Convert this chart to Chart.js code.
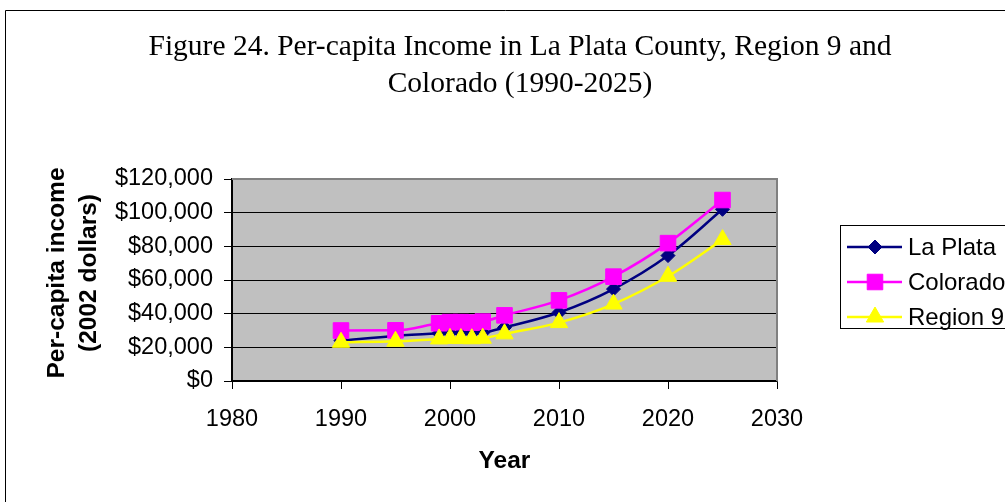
<!DOCTYPE html>
<html>
<head>
<meta charset="utf-8">
<script src="https://cdn.jsdelivr.net/npm/chart.js@4"></script>
<style>
  html, body { margin: 0; padding: 0; background: #fff; }
  #wrap { width: 1005px; height: 502px; position: relative; }
</style>
</head>
<body>
<div id="wrap"><canvas id="chart" width="1005" height="502"></canvas></div>
<script>
// ---- data ----
const years = [1990, 1995, 1999, 2000, 2001, 2002, 2003, 2005, 2010, 2015, 2020, 2025];
const laPlata = [24000, 26800, 28300, 28600, 28500, 28300, 28700, 31800, 40700, 54600, 74500, 102000];
const colorado = [30000, 30100, 34300, 35000, 35000, 34700, 35300, 39000, 47900, 62000, 81900, 107500];
const region9 = [23000, 23600, 25000, 25300, 25200, 25100, 25400, 28000, 34700, 45700, 62200, 84000];

const seriesNames = ['La Plata', 'Colorado', 'Region 9'];
const titleLines = ['Figure 24. Per-capita Income in La Plata County, Region 9 and', 'Colorado (1990-2025)'];
const yTitleLines = ['Per-capita income', '(2002 dollars)'];
const xTitle = 'Year';

const toPoints = vals => years.map((y, i) => ({ x: y, y: vals[i] }));

// plot background, frame, titles and legend box
const decorPlugin = {
  id: 'decor',
  beforeDraw(chart) {
    const { ctx, chartArea: a } = chart;
    ctx.save();
    ctx.fillStyle = '#c0c0c0';
    ctx.fillRect(a.left, a.top, a.right - a.left, a.bottom - a.top);
    ctx.restore();
  },
  beforeDatasetsDraw(chart) {
    const { ctx, chartArea: a } = chart;
    ctx.save();
    ctx.strokeStyle = '#808080';
    ctx.lineWidth = 2;
    ctx.beginPath();
    ctx.moveTo(a.left, a.top);
    ctx.lineTo(a.right, a.top);
    ctx.lineTo(a.right, a.bottom);
    ctx.stroke();
    ctx.restore();
  },
  afterDraw(chart) {
    const { ctx, chartArea: a } = chart;
    ctx.save();

    // outer frame (runs off the right and bottom edges)
    ctx.strokeStyle = '#000';
    ctx.lineWidth = 1;
    ctx.beginPath();
    ctx.moveTo(5.5, 520);
    ctx.lineTo(5.5, 10.5);
    ctx.lineTo(1020, 10.5);
    ctx.stroke();

    // title
    ctx.fillStyle = '#000';
    ctx.textAlign = 'center';
    ctx.textBaseline = 'middle';
    ctx.font = '29.5px "Liberation Serif", "Times New Roman", serif';
    ctx.fillText(titleLines[0], 520, 47);
    ctx.fillText(titleLines[1], 520, 84);

    // y title
    ctx.font = 'bold 24.5px "Liberation Sans", Arial, sans-serif';
    ctx.save();
    ctx.translate(57, 273);
    ctx.rotate(-Math.PI / 2);
    ctx.fillText(yTitleLines[0], 0, 0);
    ctx.fillText(yTitleLines[1], 0, 32);
    ctx.restore();

    // x title
    ctx.fillText(xTitle, (a.left + a.right) / 2, 461);

    // legend
    ctx.strokeStyle = '#000';
    ctx.lineWidth = 1;
    ctx.strokeRect(840.5, 225.5, 200, 103);
    ctx.font = '24px "Liberation Sans", Arial, sans-serif';
    ctx.textAlign = 'left';
    const rows = [247, 282, 317];
    chart.data.datasets.forEach((ds, i) => {
      const y = rows[i];
      ctx.strokeStyle = ds.borderColor;
      ctx.lineWidth = ds.borderWidth;
      ctx.beginPath();
      ctx.moveTo(847, y);
      ctx.lineTo(902, y);
      ctx.stroke();
      ctx.fillStyle = ds.borderColor;
      ctx.strokeStyle = ds.borderColor;
      ctx.lineWidth = 1;
      Chart.helpers.drawPoint(ctx, {
        pointStyle: ds.pointStyle,
        radius: ds.pointRadius,
        rotation: 0,
        borderWidth: 1
      }, 875, y);
      ctx.fillStyle = '#000';
      ctx.fillText(ds.label, 908, y + 1);
    });
    ctx.restore();
  }
};

// later series sit on top, like the original
const makeSet = (label, vals, color, style, radius, order) => ({
  label: label,
  data: toPoints(vals),
  order: order,
  borderColor: color,
  backgroundColor: color,
  pointBackgroundColor: color,
  pointBorderColor: color,
  borderWidth: 2.5,
  pointStyle: style,
  pointRadius: radius,
  pointBorderWidth: 1,
  pointHoverRadius: radius,
  cubicInterpolationMode: 'monotone',
  fill: false
});

const ctx = document.getElementById('chart').getContext('2d');

new Chart(ctx, {
  type: 'line',
  data: {
    datasets: [
      makeSet(seriesNames[0], laPlata, '#000080', 'rectRot', 7, 3),
      makeSet(seriesNames[1], colorado, '#ff00ff', 'rect', 11, 2),
      makeSet(seriesNames[2], region9, '#ffff00', 'triangle', 10, 1)
    ]
  },
  options: {
    responsive: false,
    animation: false,
    devicePixelRatio: 1,
    layout: { padding: { top: 179, right: 228, left: 0, bottom: 0 } },
    plugins: {
      legend: { display: false },
      title: { display: false },
      tooltip: { enabled: false }
    },
    scales: {
      x: {
        type: 'linear',
        min: 1980,
        max: 2030,
        afterFit: s => { s.height = 121; },
        grid: { drawOnChartArea: false, tickLength: 8, color: '#000', tickColor: '#000' },
        border: { color: '#000', width: 1.5 },
        ticks: {
          stepSize: 10,
          color: '#000',
          padding: 16,
          font: { family: '"Liberation Sans", Arial, sans-serif', size: 23.5 },
          callback: v => String(v)
        }
      },
      y: {
        min: 0,
        max: 120000,
        afterFit: s => { s.width = 232; },
        grid: { color: '#000', tickLength: 8, tickColor: '#000', lineWidth: 1 },
        border: { color: '#000', width: 2 },
        ticks: {
          stepSize: 20000,
          color: '#000',
          padding: 11,
          font: { family: '"Liberation Sans", Arial, sans-serif', size: 23.5 },
          callback: v => '$' + v.toLocaleString('en-US')
        }
      }
    }
  },
  plugins: [decorPlugin]
});
</script>
</body>
</html>
